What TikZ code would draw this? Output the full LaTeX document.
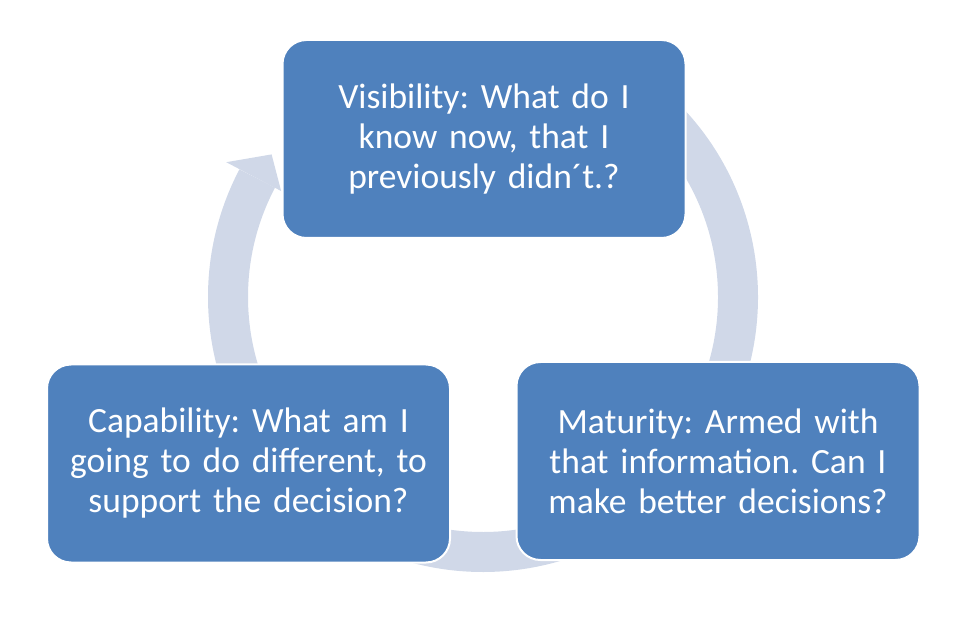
\documentclass[tikz,border=0pt]{standalone}
\usepackage{fontspec}
\setmainfont{Carlito}
\usetikzlibrary{calc}
\definecolor{boxblue}{HTML}{4F81BD}
\definecolor{ringc}{HTML}{D0D8E8}
\begin{document}
\frenchspacing
\begin{tikzpicture}[x=1pt,y=1pt,
  box/.style={draw=white,line width=2pt,fill=boxblue,rounded corners=24pt,
    minimum width=403pt,minimum height=198pt,text width=390pt,align=center,
    text=white,font=\fontsize{35.5}{40}\selectfont}]
\useasboundingbox (0,0) rectangle (969,616);
\coordinate (c) at (483,319);
\draw[ringc,line width=40pt] ($(c)+(50:255)$) arc[start angle=50,end angle=-207.7,radius=255];
\fill[ringc] ($(c)+(152.3:228)$) -- ($(c)+(146:255)$) -- ($(c)+(152.3:290)$) -- cycle;
\node[box] (vis) at (484,477) {Visibility: What do I\\ know now, that I\\ previously didn´t.?};
\node[box] (cap) at (248.5,152.5) {Capability: What am I\\ going to do different, to\\ support the decision?};
\node[box] (mat) at (718,155) {Maturity: Armed with\\ that information. Can I\\ make better decisions?};
\end{tikzpicture}
\end{document}
